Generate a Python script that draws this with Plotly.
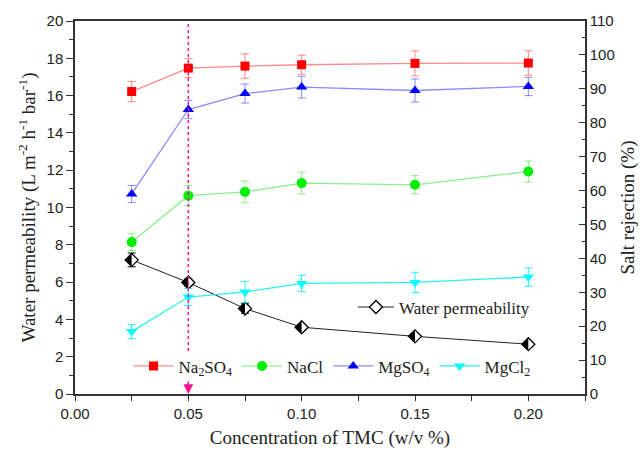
import plotly.graph_objects as go

# ---- data ----
tmc = [0.025, 0.05, 0.075, 0.10, 0.15, 0.20]

na2so4 = [89.2, 96.1, 96.7, 97.1, 97.5, 97.6]
na2so4_err = [3.0, 2.8, 3.6, 2.8, 3.7, 3.6]
nacl = [44.8, 58.5, 59.6, 62.2, 61.7, 65.6]
nacl_err = [2.5, 3.0, 3.2, 3.2, 2.7, 3.1]
mgso4 = [59.0, 83.9, 88.6, 90.5, 89.5, 90.7]
mgso4_err = [2.5, 2.7, 2.8, 3.2, 3.4, 2.7]
mgcl2 = [18.4, 28.6, 30.1, 32.6, 32.9, 34.5]
mgcl2_err = [2.1, 2.5, 3.1, 2.4, 3.0, 2.7]
water = [7.19, 5.98, 4.58, 3.58, 3.09, 2.67]
water_err = [0.37, 0.2, 0.25, 0.15, 0.15, 0.15]

highlight_x = 0.05
highlight_y = [2.3, 20]

SERIF = "Liberation Serif"
SANS = "Liberation Sans"
AX = "#333333"

fig = go.Figure()

salts = [
    ("Na<sub>2</sub>SO<sub>4</sub>", na2so4, na2so4_err, "square", 9, "#ff0000", "rgba(255,60,60,0.6)"),
    ("NaCl", nacl, nacl_err, "circle", 10, "#00ee00", "rgba(60,230,60,0.6)"),
    ("MgSO<sub>4</sub>", mgso4, mgso4_err, "triangle-up", 10, "#0000ff", "rgba(60,60,255,0.6)"),
    ("MgCl<sub>2</sub>", mgcl2, mgcl2_err, "triangle-down", 10, "#00ffff", "rgba(0,240,240,0.85)"),
]
for name, vals, err, sym, size, mcol, lcol in salts:
    fig.add_trace(go.Scatter(
        x=tmc, y=vals, name=name, yaxis="y2", mode="lines+markers",
        line=dict(color=lcol, width=1.3),
        marker=dict(symbol=sym, size=size, color=mcol),
        error_y=dict(type="data", array=err, visible=True, color=lcol, thickness=1, width=4),
        legend="legend",
    ))

# water permeability: white diamond with black outline + black left half
fig.add_trace(go.Scatter(
    x=tmc, y=water, name="Water permeability", mode="lines+markers",
    line=dict(color="#222222", width=1),
    marker=dict(symbol="diamond", size=10, color="white", line=dict(color="black", width=1.3)),
    error_y=dict(type="data", array=water_err, visible=True, color="black", thickness=1, width=4),
    legend="legend2",
))
fig.add_trace(go.Scatter(
    x=tmc, y=water, mode="markers", showlegend=False, hoverinfo="skip",
    marker=dict(symbol="triangle-down", size=9.5, color="black", angle=90, standoff=2.4,
                line=dict(width=0)),
))

fig.add_shape(type="line", xref="x", yref="y", x0=highlight_x, x1=highlight_x,
              y0=highlight_y[0], y1=highlight_y[1],
              line=dict(color="#ff1493", width=1.5, dash="dot"))
fig.add_annotation(x=highlight_x, y=0, xref="x", yref="y", ax=0, ay=-14, text="",
                   showarrow=True, arrowhead=2, arrowsize=1.3, arrowwidth=1.5,
                   arrowcolor="#ff1493", standoff=0)
# right axis title
fig.add_annotation(x=1.0, y=0.5, xref="paper", yref="paper", xshift=42, xanchor="center",
                   yanchor="middle", text="Salt rejection (%)", textangle=-90, showarrow=False,
                   font=dict(family=SERIF, size=19, color="#222222"))

fig.update_layout(
    width=640, height=457,
    margin=dict(l=75, r=55, t=16, b=61),
    paper_bgcolor="white", plot_bgcolor="white",
    font=dict(family=SANS, size=15, color="#222222"),
    showlegend=True,
    legend=dict(orientation="h", x=0.105, y=0.074, xanchor="left", yanchor="middle",
                bgcolor="rgba(0,0,0,0)", font=dict(family=SERIF, size=17, color="#222222"),
                itemwidth=40, tracegroupgap=0),
    legend2=dict(x=0.545, y=0.232, xanchor="left", yanchor="middle",
                 bgcolor="rgba(0,0,0,0)", font=dict(family=SERIF, size=17, color="#222222"),
                 itemwidth=36),
    xaxis=dict(range=[0, 0.225], tick0=0, dtick=0.05, tickformat=".2f",
               ticks="outside", ticklen=5, tickwidth=1.3, tickcolor=AX,
               minor=dict(dtick=0.025, ticks="outside", ticklen=5, tickwidth=1.3, tickcolor=AX),
               showline=True, linecolor=AX, linewidth=1.5, mirror=True,
               showgrid=False, zeroline=False,
               tickfont=dict(family=SANS, size=15),
               title=dict(text="Concentration of TMC (w/v %)", font=dict(family=SERIF, size=19),
                          standoff=10)),
    yaxis=dict(range=[0, 20], tick0=0, dtick=2,
               ticks="outside", ticklen=7, tickwidth=1.3, tickcolor=AX,
               minor=dict(dtick=1, ticks="outside", ticklen=4, tickwidth=1.3, tickcolor=AX),
               showline=True, linecolor=AX, linewidth=1.5,
               showgrid=False, zeroline=False,
               tickfont=dict(family=SANS, size=15),
               title=dict(text="Water permeability (L m<sup>-2</sup> h<sup>-1</sup> bar<sup>-1</sup>)",
                          font=dict(family=SERIF, size=19), standoff=6)),
    yaxis2=dict(range=[0, 110], tick0=0, dtick=10, overlaying="y", side="right",
                ticks="inside", ticklen=6, tickwidth=1.3, tickcolor=AX,
                minor=dict(dtick=5, ticks="inside", ticklen=3, tickwidth=1.3, tickcolor=AX),
                showline=True, linecolor=AX, linewidth=1.5,
                showgrid=False, zeroline=False,
                tickfont=dict(family=SANS, size=15)),
)

fig.write_html("out.html")
